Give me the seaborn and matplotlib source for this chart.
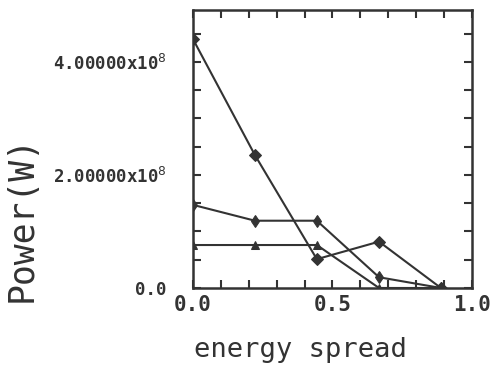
import pandas as pd
import matplotlib
matplotlib.use("Agg")
import matplotlib.pyplot as plt
import seaborn as sns
from matplotlib.ticker import MultipleLocator, FixedLocator, FixedFormatter

# values
spread = [0.0, 0.222, 0.444, 0.667, 0.889]
power_a = [4.40e8, 2.35e8, 0.51e8, 0.82e8, 0.0]
power_b = [1.47e8, 1.19e8, 1.19e8, 0.19e8, 0.0]
power_c = [0.76e8, 0.76e8, 0.76e8, 0.0, 0.0]
series_names = ["a", "b", "c"]
markers = ["D", "d", "^"]

ytick_vals = [0.0, 2e8, 4e8]
ytick_text = ["0.0", r"2.00000x10$^{8}$", r"4.00000x10$^{8}$"]
xtick_vals = [0.0, 0.5, 1.0]
xtick_text = ["0.0", "0.5", "1.0"]

df = pd.DataFrame({
    "spread": spread * 3,
    "power": power_a + power_b + power_c,
    "series": sum([[n] * len(spread) for n in series_names], []),
})

sns.set_style("ticks")
plt.rcParams['font.family'] = ['DejaVu Sans Mono', 'DejaVu Sans']
ink = "#333333"

fig = plt.figure(figsize=(4.9, 3.65), dpi=100)
ax = fig.add_axes([0.394, 0.211, 0.569, 0.762])

sns.lineplot(data=df, x="spread", y="power", hue="series", style="series",
             palette=[ink] * 3, markers=markers, dashes=False,
             markersize=6, linewidth=1.5, legend=False, ax=ax,
             markeredgecolor=ink, markerfacecolor=ink)

ax.set_xlim(0, 1.0)
ax.set_ylim(0, 4.92e8)

ax.xaxis.set_major_locator(FixedLocator(xtick_vals))
ax.xaxis.set_major_formatter(FixedFormatter(xtick_text))
ax.xaxis.set_minor_locator(MultipleLocator(0.1))
ax.yaxis.set_major_locator(FixedLocator(ytick_vals))
ax.yaxis.set_major_formatter(FixedFormatter(ytick_text))
ax.yaxis.set_minor_locator(MultipleLocator(0.5e8))

ax.tick_params(which="both", direction="in", length=6, width=1.5,
               color=ink, top=True, right=True)
ax.tick_params(axis="x", labelsize=15, pad=5, labelcolor=ink)
ax.tick_params(axis="y", labelsize=12.5, pad=19, labelcolor=ink)
for lab in ax.get_xticklabels() + ax.get_yticklabels():
    lab.set_fontweight("bold")

for sp in ax.spines.values():
    sp.set_linewidth(1.8)
    sp.set_color(ink)

ax.set_xlabel("")
ax.set_ylabel("")
fig.text(0.395, 0.04, "energy spread", fontsize=19.5, color=ink,
         ha="left", va="center")
fig.text(0.045, 0.40, "Power(W)", fontsize=25, color=ink,
         rotation=90, ha="center", va="center")

fig.savefig("out.png", dpi=100)
